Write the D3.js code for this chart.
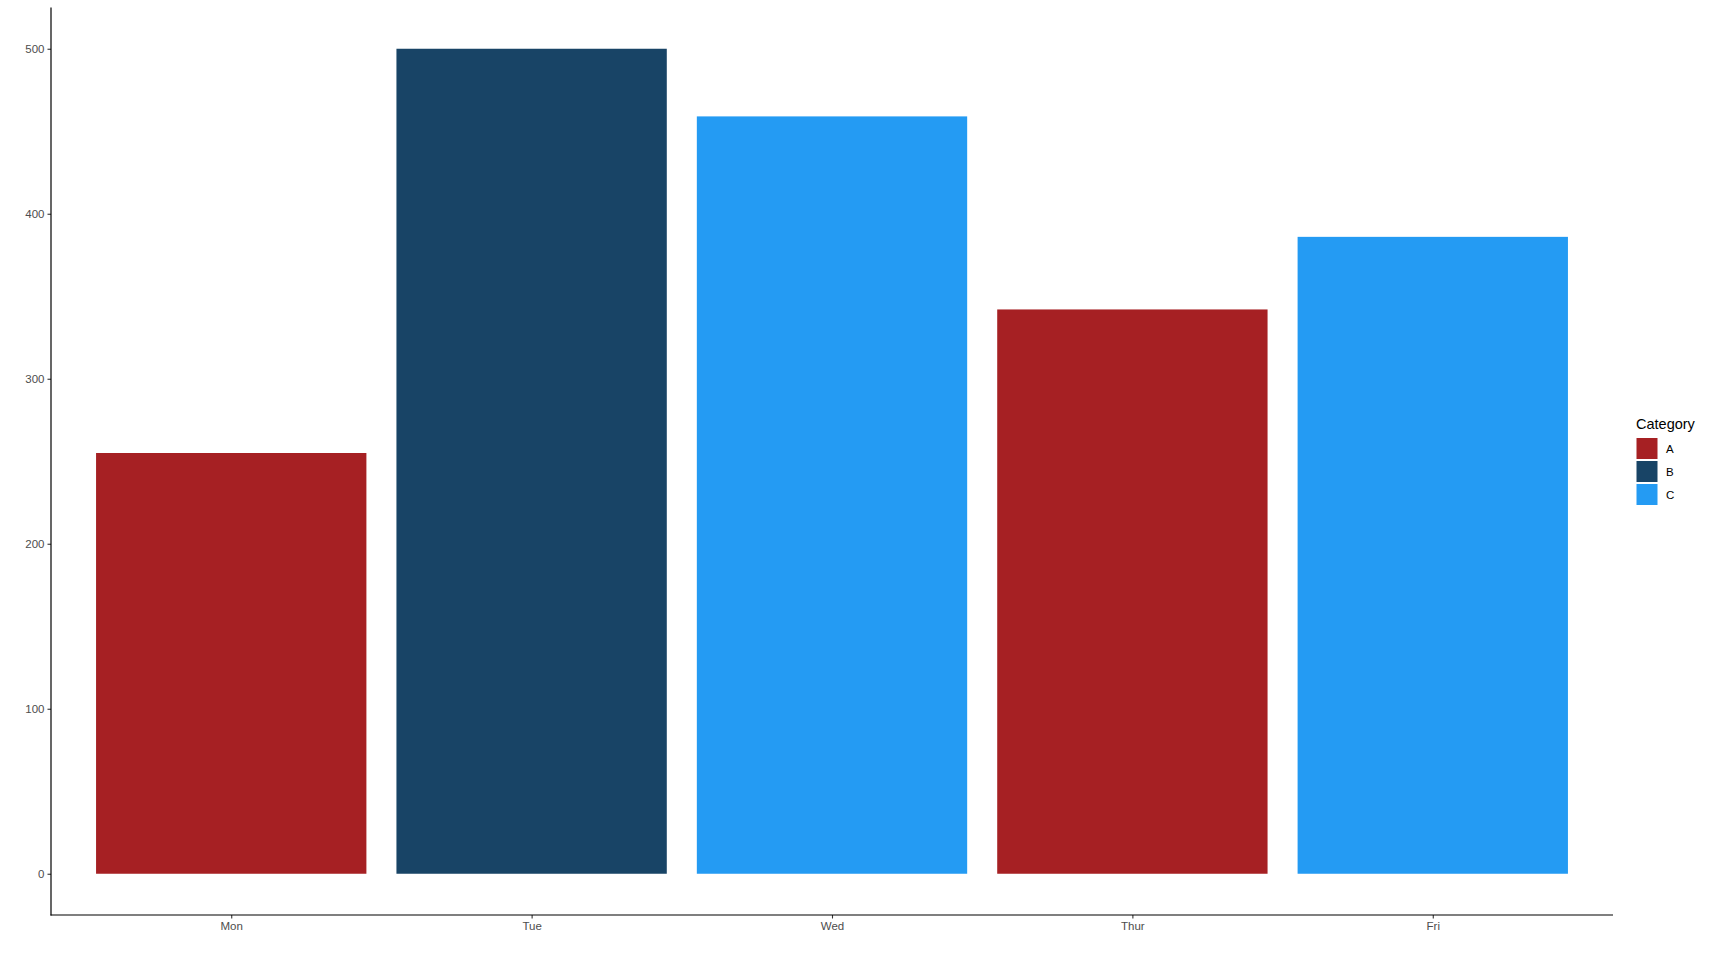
<!DOCTYPE html>
<html><head><meta charset="utf-8">
<script src="https://cdn.jsdelivr.net/npm/d3@7"></script>
<style>body{margin:0;background:#fff;} svg{display:block;font-family:"Liberation Sans",Arial,sans-serif;}</style>
</head><body>
<svg id="chart" width="1710" height="957"></svg>
<script>
const days = ["Mon","Tue","Wed","Thur","Fri"];
const values = [255, 500, 459, 342, 386];
const cats = ["A","B","C","A","C"];
const legendCats = ["A","B","C"];
const catColors = ["#A62023","#184466","#249BF3"];
const yTicks = [0,100,200,300,400,500];

(function(){
const svg = d3.select("#chart");
const pLeft = 51, pRight = 1613, pTop = 7.5, pBottom = 915;

// emulate ggplot discrete expansion: 0.6 units on each side, bar width 0.9
const n = days.length;
const xc = d3.scaleLinear().domain([-0.6, n - 1 + 0.6]).range([pLeft, pRight]);
const unit = xc(1) - xc(0);
const bw = 0.9 * unit;
const xpos = d => xc(days.indexOf(d));

const y = d3.scaleLinear().domain([-25, 525]).range([pBottom, pTop]);
const color = d3.scaleOrdinal().domain(legendCats).range(catColors);

svg.append("g").selectAll("rect").data(days).join("rect")
  .attr("x", d => xpos(d) - bw/2)
  .attr("width", bw)
  .attr("y", (d,i) => y(values[i]))
  .attr("height", (d,i) => y(0) - y(values[i]))
  .attr("fill", (d,i) => color(cats[i]));

// y axis
const yAxis = d3.axisLeft(y).tickValues(yTicks).tickSize(3.5).tickPadding(3);
const gy = svg.append("g").attr("transform", `translate(${pLeft},0)`).call(yAxis);
gy.select(".domain").remove();
gy.selectAll(".tick line").attr("stroke","#333").attr("stroke-width",1.1);
gy.selectAll(".tick text").attr("fill","#4d4d4d").attr("font-size","11.5px").attr("font-family","Liberation Sans, Arial, sans-serif");
svg.append("line").attr("x1",pLeft).attr("x2",pLeft).attr("y1",pTop).attr("y2",pBottom+0.5).attr("stroke","#000").attr("stroke-width",1.2);

// x axis
const xs = d3.scalePoint().domain(days).range([xpos(days[0]), xpos(days[n-1])]);
const xAxis = d3.axisBottom(xs).tickSize(3.5).tickPadding(3);
const gx = svg.append("g").attr("transform", `translate(0,${pBottom})`).call(xAxis);
gx.select(".domain").remove();
gx.selectAll(".tick line").attr("stroke","#333").attr("stroke-width",1.1);
gx.selectAll(".tick text").attr("fill","#4d4d4d").attr("font-size","11.5px").attr("font-family","Liberation Sans, Arial, sans-serif");
svg.append("line").attr("x1",pLeft-0.5).attr("x2",pRight).attr("y1",pBottom).attr("y2",pBottom).attr("stroke","#000").attr("stroke-width",1.2);

// legend
const lg = svg.append("g").attr("transform","translate(1636,0)");
lg.append("text").attr("x",0).attr("y",429).attr("font-size","14.5px").attr("fill","#000").text("Category");
const keys = lg.selectAll("g.key").data(legendCats).join("g").attr("class","key")
  .attr("transform",(d,i)=>`translate(0,${438 + i*23})`);
keys.append("rect").attr("x",0.5).attr("y",0).attr("width",21).attr("height",21).attr("fill",d=>color(d));
keys.append("text").attr("x",30).attr("y",15).attr("font-size","11.5px").attr("fill","#000").text(d=>d);
})();
</script>
</body></html>
